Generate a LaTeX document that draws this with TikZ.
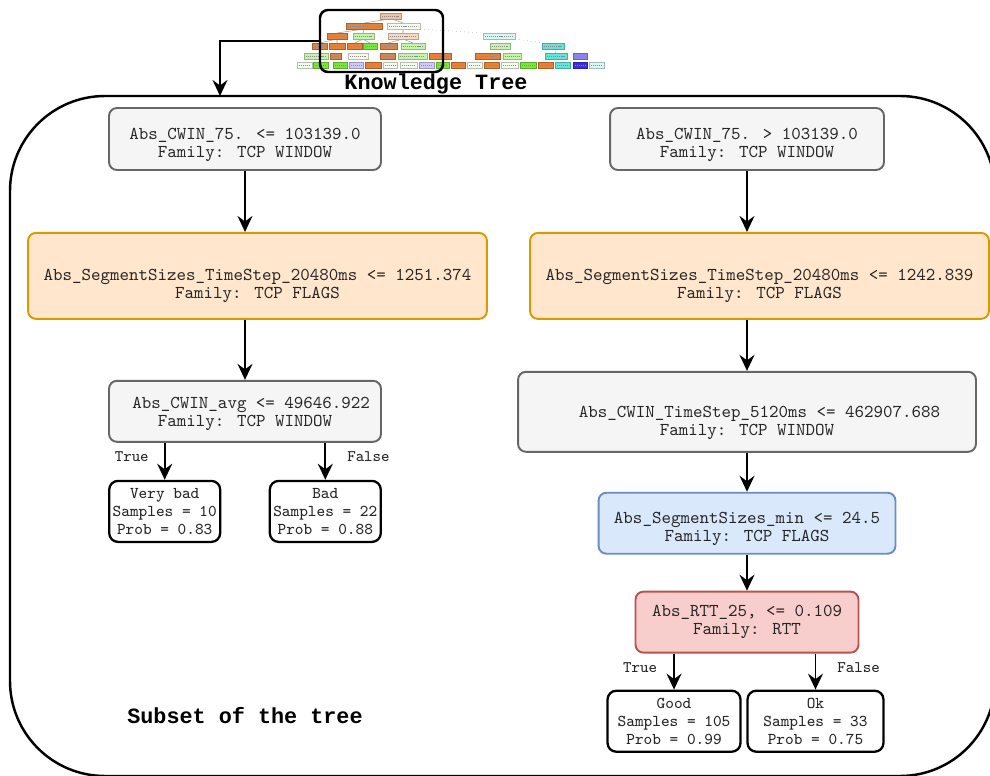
\documentclass[tikz,border=0pt]{standalone}
\usepackage{fontspec}
\newfontfamily\captionfont{Liberation Mono}
\usepackage{tikz}
\usetikzlibrary{arrows.meta, positioning}
\definecolor{cGrayFill}{HTML}{F5F5F5}
\definecolor{cGrayLine}{HTML}{666666}
\definecolor{cOrangeFill}{HTML}{FFE6CC}
\definecolor{cOrangeLine}{HTML}{D79B00}
\definecolor{cBlueFill}{HTML}{DAE8FC}
\definecolor{cBlueLine}{HTML}{6C8EBF}
\definecolor{cRedFill}{HTML}{F8CECC}
\definecolor{cRedLine}{HTML}{B85450}
\definecolor{tOrange}{HTML}{E58139}
\definecolor{tPeach}{HTML}{F2C29E}
\definecolor{tLPeach}{HTML}{F7D8C2}
\definecolor{tWhite}{HTML}{F4FCEF}
\definecolor{tLGreen}{HTML}{C4F4A8}
\definecolor{tGreen}{HTML}{7BE540}
\definecolor{tLCyan}{HTML}{D8F8F5}
\definecolor{tCyan}{HTML}{62E4D8}
\definecolor{tPurple}{HTML}{8D83EA}
\definecolor{tLPurple}{HTML}{CFCAF7}
\definecolor{tBlue}{HTML}{3B2DE0}
\newcommand{\lowtext}[2]{\raisebox{-#1}[\height][\depth]{\begin{tabular}{@{}c@{}}#2\end{tabular}}}
\tikzset{
    splitbox/.style={rectangle, rounded corners=4.5pt, align=center, line width=1.1pt, text=black!85, inner sep=2pt, font=\ttfamily\fontsize{10.3}{10.2}\selectfont},
    graybox/.style  ={splitbox, draw=cGrayLine, fill=cGrayFill},
    orangebox/.style={splitbox, draw=cOrangeLine, fill=cOrangeFill},
    bluebox/.style  ={splitbox, draw=cBlueLine, fill=cBlueFill},
    redbox/.style   ={splitbox, draw=cRedLine, fill=cRedFill},
    leafbox/.style  ={rectangle, rounded corners=5pt, align=center, line width=1.3pt, draw=black, fill=white, text=black!85, inner sep=1pt, minimum height=1.22cm, font=\ttfamily\fontsize{9.4}{10.4}\selectfont},
    flowarrow/.style={-{Stealth[length=3.2mm, width=3mm, inset=1.1mm]}, line width=1.1pt},
    branchlbl/.style={font=\ttfamily\fontsize{9.2}{10}\selectfont, text=black!85, inner sep=0pt},
    captiontext/.style={font=\captionfont\bfseries\fontsize{12.4}{14}\selectfont, inner sep=0pt},
}
\begin{document}
\begin{tikzpicture}[x=0.02cm, y=-0.02cm]
    \useasboundingbox (0,0) rectangle (990,776);
    \clip (0,0) rectangle (990,776);

    % knowledge tree thumbnail
    \draw[black!40, line width=0.3pt, dotted] (420,29) -- (483,33) (515,39) -- (543,43) (499,39) -- (500,43) (553,49) -- (556,53) (564,49) -- (580,53);
    \draw[black!40, line width=0.3pt] (390,19) -- (364,23) (392,19) -- (403,23) (364,29) -- (337,33) (364,29) -- (363,33) (403,29) -- (403,33) (337,39) -- (320,43) (337,39) -- (337,43) (363,39) -- (355,43) (363,39) -- (370,43) (403,39) -- (388,43) (403,39) -- (413,43);
    \foreach \xa/\xb/\yy/\cc in {380/401/13/tPeach,
        346/382/23/tOrange, 387/420/23/tWhite,
        327/347/33/tOrange, 353/374/33/tLGreen, 388/418/33/tLPeach, 483/515/33/tLCyan,
        312/327/43/tOrange, 329/345/43/tOrange, 347/362/43/tOrange, 363/377/43/tGreen, 380/397/43/tOrange, 401/425/43/tLGreen, 490/510/43/tLGreen, 542/564/43/tCyan,
        304/328/53/tLGreen, 330/341/53/tOrange, 348/368/53/tWhite, 380/395/53/tOrange, 398/427/53/tLGreen, 429/451/53/tOrange, 475/500/53/tOrange, 503/521/53/tLGreen, 545/567/53/tCyan, 573/587/53/tPurple,
        297/312/62/tWhite, 313/328/62/tGreen, 333/347/62/tGreen, 349/363/62/tLPurple, 365/381/62/tOrange, 383/397/62/tWhite, 400/417/62/tWhite, 419/434/62/tLPurple, 436/449/62/tGreen, 451/465/62/tOrange, 467/482/62/tWhite, 484/499/62/tOrange, 501/518/62/tWhite, 520/536/62/tGreen, 538/553/62/tOrange, 555/570/62/tCyan, 573/587/62/tBlue, 589/604/62/tLCyan} {
        \filldraw[fill=\cc, draw=\cc!75!black, line width=0.2pt] (\xa,\yy) rectangle (\xb,\yy+6);
        \draw[black!45, line width=0.4pt, dash pattern=on 0.6pt off 0.5pt] (\xa+2,\yy+3) -- (\xb-2,\yy+3);
    }
    \node[draw=black, line width=1.4pt, rounded corners=4.5pt, minimum width=2.46cm, minimum height=1.24cm] (ktframe) at (381.5,41) {};
    \node[captiontext] (kttitle) at (436,84) {Knowledge Tree};
    \coordinate (drop) at (220,96);
    \draw[flowarrow] (ktframe.west) -| (drop);

    % subset frame
    \draw[line width=1.4pt, rounded corners=1.9cm] (10,96) rectangle (995,776);
    \node[captiontext] (subset) at (245,716) {Subset of the tree};

    % left branch
    \node[graybox, minimum width=5.44cm, minimum height=1.24cm] (l1) at (245,139) {\lowtext{3.4pt}{Abs\_CWIN\_75. <= 103139.0\\Family: TCP WINDOW}};
    \node[orangebox, minimum width=9.18cm, minimum height=1.72cm, below=1.22cm of l1, xshift=0.25cm] (l2) {\lowtext{5.7pt}{Abs\_SegmentSizes\_TimeStep\_20480ms <= 1251.374\\Family: TCP FLAGS}};
    \node[graybox, minimum width=5.44cm, minimum height=1.22cm, below=1.2cm of l2, xshift=-0.25cm] (l3) {\lowtext{1.7pt}{\hspace*{0.25cm}Abs\_CWIN\_avg <= 49646.922\\Family: TCP WINDOW}};
    \node[leafbox, minimum width=2.22cm, below=0.74cm of l3.south west, anchor=north west] (vbad) {Very bad\\Samples = 10\\Prob = 0.83};
    \node[leafbox, minimum width=2.22cm, below=0.74cm of l3.south east, anchor=north east] (bad) {Bad\\Samples = 22\\Prob = 0.88};

    % right branch
    \node[graybox, minimum width=5.48cm, minimum height=1.24cm] (r1) at (747,139) {\lowtext{3.4pt}{Abs\_CWIN\_75. > 103139.0\\Family: TCP WINDOW}};
    \node[orangebox, minimum width=9.18cm, minimum height=1.72cm, below=1.22cm of r1, xshift=0.25cm] (r2) {\lowtext{5.7pt}{Abs\_SegmentSizes\_TimeStep\_20480ms <= 1242.839\\Family: TCP FLAGS}};
    \node[graybox, minimum width=9.16cm, minimum height=1.6cm, below=1.02cm of r2, xshift=-0.25cm] (r3) {\lowtext{6.2pt}{\hspace*{0.5cm}Abs\_CWIN\_TimeStep\_5120ms <= 462907.688\\Family: TCP WINDOW}};
    \node[bluebox, minimum width=5.94cm, minimum height=1.22cm, below=0.78cm of r3] (r4) {\lowtext{3.4pt}{Abs\_SegmentSizes\_min <= 24.5\\Family: TCP FLAGS}};
    \node[redbox, minimum width=4.46cm, minimum height=1.22cm, below=0.72cm of r4] (r5) {Abs\_RTT\_25, <= 0.109\\Family: RTT};
    \node[leafbox, minimum width=2.66cm, below=0.72cm of r5, xshift=-1.46cm] (good) {Good\\Samples = 105\\Prob = 0.99};
    \node[leafbox, minimum width=2.72cm, below=0.72cm of r5, xshift=1.37cm] (ok) {Ok\\Samples = 33\\Prob = 0.75};

    \draw[flowarrow] (l1.south) -- (l1.south |- l2.north);
    \draw[flowarrow] (l3.north |- l2.south) -- (l3.north);
    \draw[flowarrow] (vbad.north |- l3.south) -- node[branchlbl, left=0.3cm, pos=0.38] {True} (vbad.north);
    \draw[flowarrow] (bad.north |- l3.south) -- node[branchlbl, right=0.42cm, pos=0.38] {False} (bad.north);
    \draw[flowarrow] (r1.south) -- (r1.south |- r2.north);
    \draw[flowarrow] (r3.north |- r2.south) -- (r3.north);
    \draw[flowarrow] (r3.south) -- (r4.north);
    \draw[flowarrow] (r4.south) -- (r5.north);
    \draw[flowarrow] (good.north |- r5.south) -- node[branchlbl, left=0.32cm, pos=0.38] {True} (good.north);
    \draw[flowarrow] (ok.north |- r5.south) -- node[branchlbl, right=0.42cm, pos=0.38] {False} (ok.north);
\end{tikzpicture}
\end{document}
